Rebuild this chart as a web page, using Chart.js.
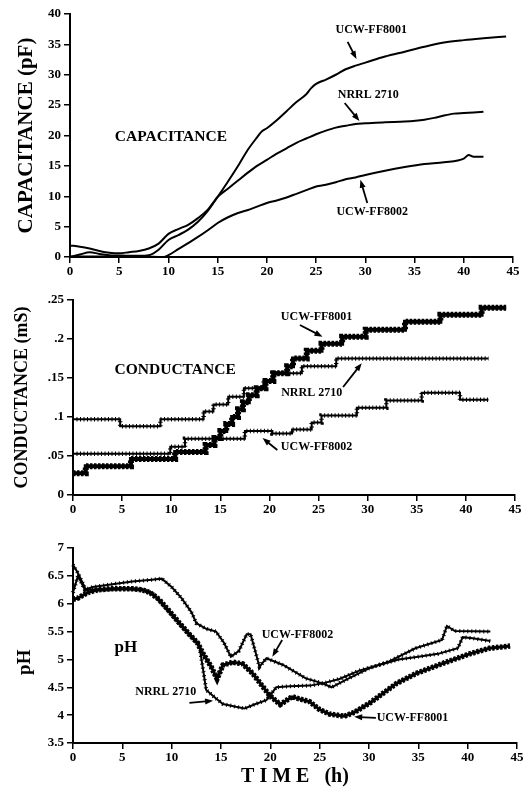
<!DOCTYPE html>
<html>
<head>
<meta charset="utf-8">
<script src="https://cdn.jsdelivr.net/npm/chart.js@4/dist/chart.umd.min.js"></script>
<style>
  body { margin: 0; background: #fff; }
  .panel { position: absolute; left: 0; }
</style>
</head>
<body>
<div class="panel" style="top:0px"><canvas id="capChart" width="528" height="285"></canvas></div>
<div class="panel" style="top:280px"><canvas id="condChart" width="528" height="240"></canvas></div>
<div class="panel" style="top:525px"><canvas id="phChart" width="528" height="262"></canvas></div>
<script>
// ---- capacitance (pF) ----
const capT8001 = [0, 1, 2, 3, 4, 5, 6, 7, 8, 9, 10, 11, 12, 13, 14, 15, 16, 17, 18, 19, 19.5, 20, 21, 22, 23, 24, 24.5, 25, 26, 27, 28, 29, 30, 32, 34, 36, 38, 40, 42, 44.3];
const capV8001 = [0, 0.4, 0.8, 0.5, 0.3, 0.25, 0.2, 0.2, 0.3, 1.2, 2.8, 3.6, 4.5, 5.8, 7.6, 9.9, 12.3, 14.8, 17.5, 19.7, 20.7, 21.2, 22.5, 24.0, 25.5, 26.8, 27.8, 28.5, 29.2, 30.0, 30.9, 31.5, 32.0, 33.0, 33.8, 34.6, 35.3, 35.7, 36.0, 36.3];
const capTNrrl = [0, 1, 2, 3, 4, 5, 6, 7, 8, 9, 10, 11, 12, 13, 14, 15, 16, 17, 18, 19, 20, 21, 22, 23, 24, 25, 26, 27, 28, 29, 30, 32, 34, 36, 37, 38, 39, 40, 42];
const capVNrrl = [1.9, 1.7, 1.4, 1.0, 0.7, 0.6, 0.8, 1.0, 1.4, 2.2, 3.8, 4.6, 5.3, 6.4, 7.8, 9.9, 11.2, 12.5, 13.8, 15.0, 16.0, 17.0, 17.9, 18.8, 19.5, 20.2, 20.8, 21.3, 21.6, 21.9, 22.0, 22.2, 22.3, 22.6, 22.9, 23.3, 23.6, 23.7, 23.9];
const capT8002 = [0, 2, 4, 6, 8, 9, 9.5, 10, 11, 12, 13, 14, 15, 16, 17, 18, 19, 20, 21, 22, 23, 24, 25, 26, 27, 28, 29, 30, 32, 34, 36, 38, 40, 40.5, 41, 42];
const capV8002 = [0.1, 0.1, 0.1, 0.1, 0.05, 0, 0, 0.3, 1.3, 2.3, 3.3, 4.4, 5.6, 6.5, 7.2, 7.7, 8.3, 8.9, 9.3, 9.8, 10.4, 11.0, 11.6, 11.9, 12.3, 12.8, 13.1, 13.5, 14.2, 14.8, 15.3, 15.6, 16.2, 16.8, 16.5, 16.5];

// ---- conductance (mS), step series ----
const condT8001 = [0, 1.3, 5.9, 10.4, 13.5, 14.4, 15.0, 15.6, 16.2, 16.8, 17.3, 17.9, 18.7, 19.6, 20.4, 21.8, 22.4, 23.8, 25.3, 27.4, 29.8, 33.8, 37.4, 41.6, 44.1];
const condV8001 = [.028, .037, .046, .055, .064, .073, .082, .091, .100, .110, .119, .128, .137, .146, .156, .165, .175, .185, .194, .203, .212, .222, .231, .240, .240];
const condTNrrl = [0, 4.8, 8.9, 13.3, 14.3, 15.8, 17.4, 19.4, 20.3, 23.3, 26.8, 42.3];
const condVNrrl = [.097, .088, .097, .107, .116, .126, .137, .146, .156, .165, .175, .175];
const condT8002 = [0, 9.9, 11.4, 17.5, 20.3, 22.3, 24.3, 25.3, 28.9, 31.9, 35.5, 39.4, 42.3];
const condV8002 = [.053, .062, .072, .082, .079, .084, .093, .102, .112, .121, .131, .122, .122];
const condTicks = ['0', '.05', '.1', '.15', '.2', '.25'];

// ---- pH ----
const phT8001 = [0, 0.5, 1.5, 2.5, 4, 6, 7, 7.8, 8.7, 9.7, 10.8, 11.8, 12.6, 13.2, 14, 14.6, 15.2, 16.2, 17.2, 18.2, 19.9, 21, 22.2, 24, 25, 26, 27.5, 28.5, 30.1, 32.8, 34.8, 37.5, 40.2, 42.2, 44.3];
const phV8001 = [6.08, 6.1, 6.2, 6.25, 6.27, 6.27, 6.25, 6.2, 6.08, 5.88, 5.65, 5.45, 5.3, 5.1, 4.87, 4.65, 4.9, 4.95, 4.92, 4.75, 4.36, 4.19, 4.33, 4.24, 4.1, 4.02, 3.98, 4.05, 4.22, 4.57, 4.75, 4.93, 5.1, 5.2, 5.24];
const phTNrrl = [0, 0.5, 1.3, 3, 5, 7, 8, 9, 10, 11, 12, 12.8, 13.2, 13.5, 14.5, 15.2, 16.5, 17.4, 18.5, 19.6, 20.6, 22, 24, 25.3, 27, 29, 31, 33, 35, 37, 39, 39.5, 40.5, 42.3];
const phVNrrl = [6.7, 6.55, 6.25, 6.25, 6.27, 6.25, 6.2, 6.0, 5.8, 5.6, 5.4, 5.25, 4.8, 4.45, 4.3, 4.2, 4.15, 4.12, 4.2, 4.27, 4.5, 4.52, 4.53, 4.57, 4.65, 4.8, 4.9, 5.0, 5.05, 5.1, 5.2, 5.4, 5.38, 5.33];
const phT8002 = [0, 0.5, 1.2, 2, 4, 6, 8, 9, 10, 11, 12, 12.5, 13.5, 14.5, 15.3, 16, 16.8, 17.6, 18, 18.9, 19.6, 21.3, 23.6, 25.3, 26.2, 27.6, 30, 32, 34.7, 37.4, 37.9, 38.7, 42.3];
const phV8002 = [6.2, 6.5, 6.25, 6.3, 6.35, 6.4, 6.43, 6.45, 6.3, 6.1, 5.85, 5.65, 5.55, 5.5, 5.3, 5.05, 5.15, 5.45, 5.45, 4.87, 5.02, 4.9, 4.66, 4.57, 4.5, 4.63, 4.84, 4.96, 5.2, 5.35, 5.6, 5.51, 5.5];
const phTicks = ['3.5', '4', '4.5', '5', '5.5', '6', '6.5', '7'];

const timeTicks = [0, 5, 10, 15, 20, 25, 30, 35, 40, 45];

const SERIF = '"Liberation Serif", "Times New Roman", serif';
Chart.defaults.font.family = SERIF;
Chart.defaults.font.weight = 'bold';
Chart.defaults.font.size = 13;
Chart.defaults.color = '#000';

const pts = (ts, vs) => ts.map((t, i) => ({ x: t, y: vs[i] }));

// restroke some lines with a short dash so they read as rows of markers
const beads = {
  id: 'beads',
  afterDatasetsDraw(chart) {
    const { ctx } = chart;
    chart.data.datasets.forEach((ds, i) => {
      if (!ds.beads) return;
      const line = chart.getDatasetMeta(i).dataset;
      ctx.save();
      ctx.beginPath();
      line.path(ctx);
      ctx.setLineDash(ds.beads.dash);
      ctx.lineWidth = ds.beads.width;
      ctx.lineCap = 'butt';
      ctx.strokeStyle = '#000';
      ctx.stroke();
      ctx.restore();
    });
  }
};

// labels and arrows placed in data coordinates
const notes = {
  id: 'notes',
  afterDraw(chart, args, opts) {
    const { ctx } = chart;
    const x = chart.scales.x, y = chart.scales.y;
    ctx.save();
    ctx.fillStyle = '#000';
    ctx.strokeStyle = '#000';
    ctx.textAlign = 'center';
    ctx.textBaseline = 'middle';
    (opts.labels || []).forEach(l => {
      ctx.font = l.font || `bold 12px ${SERIF}`;
      ctx.fillText(l.text, x.getPixelForValue(l.at[0]), y.getPixelForValue(l.at[1]));
    });
    (opts.arrows || []).forEach(a => {
      const x0 = x.getPixelForValue(a[0][0]), y0 = y.getPixelForValue(a[0][1]);
      const x1 = x.getPixelForValue(a[1][0]), y1 = y.getPixelForValue(a[1][1]);
      const ang = Math.atan2(y1 - y0, x1 - x0);
      ctx.lineWidth = 1.8;
      ctx.beginPath();
      ctx.moveTo(x0, y0);
      ctx.lineTo(x1 - 5 * Math.cos(ang), y1 - 5 * Math.sin(ang));
      ctx.stroke();
      ctx.beginPath();
      ctx.moveTo(x1, y1);
      ctx.lineTo(x1 - 8 * Math.cos(ang) + 3 * Math.sin(ang), y1 - 8 * Math.sin(ang) - 3 * Math.cos(ang));
      ctx.lineTo(x1 - 8 * Math.cos(ang) - 3 * Math.sin(ang), y1 - 8 * Math.sin(ang) + 3 * Math.cos(ang));
      ctx.closePath();
      ctx.fill();
    });
    if (opts.sideTitle) {
      const s = opts.sideTitle;
      ctx.translate(chart.chartArea.left - s.offset, y.getPixelForValue(s.at));
      ctx.rotate(-Math.PI / 2);
      ctx.font = s.font;
      ctx.fillText(s.text, 0, 0);
    }
    ctx.restore();
  }
};

function axis(extra) {
  return Object.assign({
    type: 'linear',
    grid: { drawOnChartArea: false, drawTicks: true, tickLength: 6, color: '#000', lineWidth: 1.5 },
    border: { color: '#000', width: 2 },
  }, extra);
}

function timeAxis(height, title) {
  return axis({
    min: 0, max: 45,
    afterBuildTicks: s => { s.ticks = timeTicks.map(v => ({ value: v })); },
    ticks: { padding: 1, font: { size: 13 } },
    title: title || { display: false },
    afterFit: s => { s.height = height; }
  });
}

const lineDs = (data, width) => ({
  data, borderColor: '#000', borderWidth: width, pointRadius: 0,
  cubicInterpolationMode: 'monotone', fill: false
});

new Chart(document.getElementById('capChart'), {
  type: 'line',
  data: {
    datasets: [
      lineDs(pts(capT8001, capV8001), 2),
      lineDs(pts(capTNrrl, capVNrrl), 2),
      lineDs(pts(capT8002, capV8002), 2)
    ]
  },
  options: {
    responsive: false, animation: false,
    layout: { padding: { top: 14, right: 15, left: 0, bottom: 0 } },
    plugins: {
      legend: { display: false }, tooltip: { enabled: false },
      notes: {
        labels: [
          { text: 'CAPACITANCE', at: [10.25, 19.75], font: `bold 15.5px ${SERIF}` },
          { text: 'UCW-FF8001', at: [30.6, 37.4] },
          { text: 'NRRL 2710', at: [30.3, 26.7] },
          { text: 'UCW-FF8002', at: [30.7, 7.4] }
        ],
        arrows: [
          [[28.2, 35.4], [29.1, 32.6]],
          [[27.9, 25.35], [29.4, 22.4]],
          [[30.2, 8.9], [29.5, 12.7]]
        ]
      }
    },
    scales: {
      x: timeAxis(28),
      y: axis({
        min: 0, max: 40,
        ticks: { stepSize: 5, padding: 3 },
        title: { display: true, text: 'CAPACITANCE (pF)', font: { size: 21 }, padding: { top: 14, bottom: 0 } },
        afterFit: s => { s.width = 70; }
      })
    }
  },
  plugins: [notes]
});

new Chart(document.getElementById('condChart'), {
  type: 'line',
  data: {
    datasets: [
      Object.assign(lineDs(pts(condT8001, condV8001), 4), { stepped: true, beads: { width: 6, dash: [2.5, 1.5] } }),
      Object.assign(lineDs(pts(condTNrrl, condVNrrl), 2), { stepped: true, beads: { width: 4.5, dash: [1, 2.5] } }),
      Object.assign(lineDs(pts(condT8002, condV8002), 2), { stepped: true, beads: { width: 4.5, dash: [1, 2.5] } })
    ]
  },
  options: {
    responsive: false, animation: false,
    layout: { padding: { top: 20, right: 13, left: 0, bottom: 0 } },
    plugins: {
      legend: { display: false }, tooltip: { enabled: false },
      notes: {
        labels: [
          { text: 'CONDUCTANCE', at: [10.4, 0.160], font: `bold 15.5px ${SERIF}` },
          { text: 'UCW-FF8001', at: [24.8, 0.228] },
          { text: 'NRRL 2710', at: [24.3, 0.131] },
          { text: 'UCW-FF8002', at: [24.8, 0.0615] }
        ],
        arrows: [
          [[23.1, 0.218], [25.4, 0.203]],
          [[27.5, 0.1385], [29.4, 0.169]],
          [[20.8, 0.0577], [19.3, 0.073]]
        ]
      }
    },
    scales: {
      x: timeAxis(25),
      y: axis({
        min: 0, max: 0.25,
        afterBuildTicks: s => { s.ticks = condTicks.map((t, i) => ({ value: i * 0.05 })); },
        ticks: { padding: 3, callback: (v, i) => condTicks[i] },
        title: { display: true, text: 'CONDUCTANCE (mS)', font: { size: 18 }, padding: { top: 12, bottom: 0 } },
        afterFit: s => { s.width = 73; }
      })
    }
  },
  plugins: [beads, notes]
});

const phDs = (data, width, beadsOpt) => Object.assign(lineDs(data, width), {
  cubicInterpolationMode: 'default', tension: 0, beads: beadsOpt
});

new Chart(document.getElementById('phChart'), {
  type: 'line',
  data: {
    datasets: [
      phDs(pts(phT8001, phV8001), 3, { width: 5.5, dash: [2.5, 1.5] }),
      phDs(pts(phTNrrl, phVNrrl), 2, { width: 4, dash: [1, 3] }),
      phDs(pts(phT8002, phV8002), 2, { width: 4, dash: [1, 3] })
    ]
  },
  options: {
    responsive: false, animation: false,
    layout: { padding: { top: 23, right: 11, left: 0, bottom: 0 } },
    plugins: {
      legend: { display: false }, tooltip: { enabled: false },
      notes: {
        labels: [
          { text: 'pH', at: [5.36, 5.22], font: `bold 17px ${SERIF}` },
          { text: 'UCW-FF8002', at: [22.75, 5.44] },
          { text: 'NRRL 2710', at: [9.4, 4.42] },
          { text: 'UCW-FF8001', at: [34.4, 3.95] }
        ],
        arrows: [
          [[21.2, 5.35], [20.2, 5.05]],
          [[11.8, 4.22], [14.2, 4.26]],
          [[30.7, 3.95], [28.5, 3.97]]
        ],
        sideTitle: { text: 'pH', at: 4.95, offset: 48, font: `bold 19px ${SERIF}` }
      }
    },
    scales: {
      x: timeAxis(44, { display: true, text: 'T I M E   (h)', font: { size: 20, lineHeight: 1 }, padding: { top: 0, bottom: 0 } }),
      y: axis({
        min: 3.5, max: 7,
        afterBuildTicks: s => { s.ticks = phTicks.map(t => ({ value: parseFloat(t) })); },
        ticks: { padding: 3, callback: (v, i) => phTicks[i] },
        afterFit: s => { s.width = 73; }
      })
    }
  },
  plugins: [beads, notes]
});
</script>
</body>
</html>
